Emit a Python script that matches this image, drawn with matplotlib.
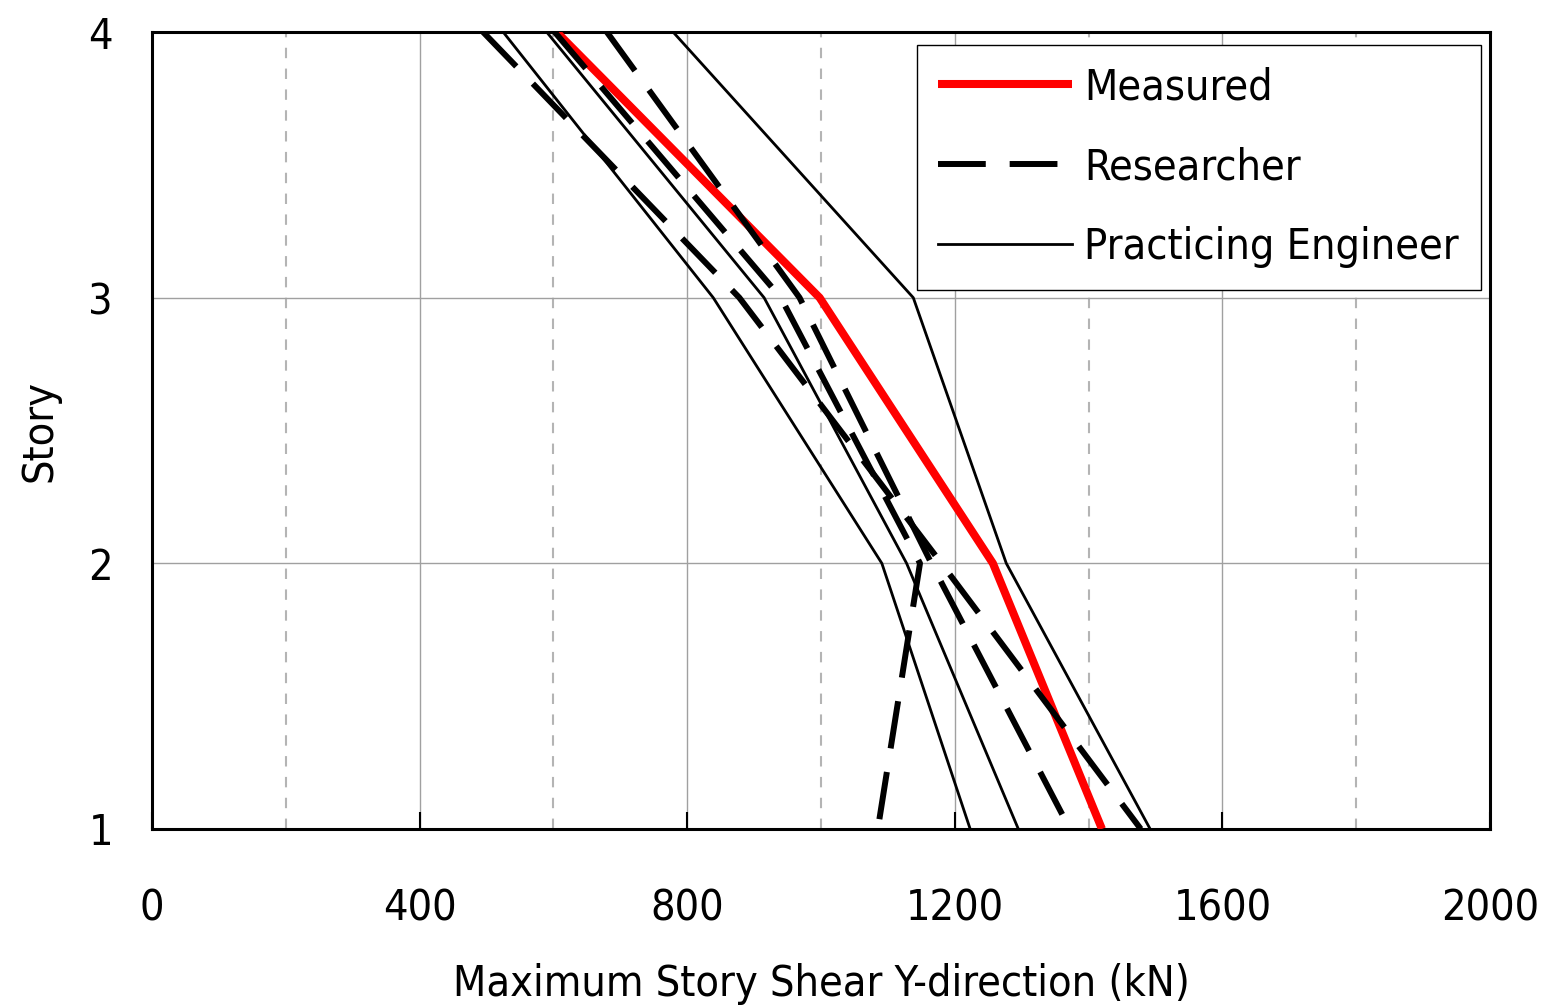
import matplotlib
matplotlib.use('Agg')
import matplotlib.pyplot as plt

plt.rcParams['font.family'] = ['DejaVu Sans']
plt.rcParams['font.stretch'] = 'condensed'

# 階数
stories = [4, 3, 2, 1]

# 実測値
measured = [605, 998, 1257, 1420]

# 研究者の解析結果（破線）
researchers = [
	[495, 878, 1180, 1478],
	[602, 940, 1148, 1085],
	[680, 968, 1165, 1372],
]

# 実務者の解析結果（細線）
engineers = [
	[525, 839, 1091, 1223],
	[590, 915, 1128, 1295],
	[779, 1138, 1277, 1492],
]

x_ticks = [0, 400, 800, 1200, 1600, 2000]
y_ticks = [1, 2, 3, 4]

fig = plt.figure(figsize=(15.41, 10.08), dpi=100)
ax = fig.add_axes([0.0986, 0.1776, 0.8683, 0.7906])

# グリッド（200刻みは破線、400刻みは実線）
for x in range(200, 2000, 200):
	if x % 400 == 0:
		ax.axvline(x, color='#a0a0a0', lw=1.0, zorder=0)
	else:
		ax.axvline(x, color='#b4b4b4', lw=1.5, ls=(0, (5, 5)), zorder=0)
for y in [2, 3]:
	ax.axhline(y, color='#a0a0a0', lw=1.0, zorder=0)

ax.plot(measured, stories, color='#ff0000', lw=5.8, solid_capstyle='butt',
	label='Measured', zorder=3)
for i, r in enumerate(researchers):
	ax.plot(r, stories, color='black', lw=4.3, dashes=(8, 4),
		label='Researcher' if i == 0 else None, zorder=4)
for i, e in enumerate(engineers):
	ax.plot(e, stories, color='black', lw=2.0,
		label='Practicing Engineer' if i == 0 else None, zorder=5)

ax.set_xlim(0, 2000)
ax.set_ylim(1, 4)
ax.set_xticks(x_ticks)
ax.set_yticks(y_ticks)
ax.tick_params(axis='x', direction='in', length=12, width=1.5, pad=42, labelsize=31)
ax.tick_params(axis='y', direction='in', length=0, pad=28, labelsize=31)
for s in ax.spines.values():
	s.set_linewidth(2.2)

ax.set_xlabel('Maximum Story Shear Y-direction (kN)', fontsize=31, labelpad=24)
ax.set_ylabel('Story', fontsize=31, labelpad=20)

leg = ax.legend(loc='upper right', bbox_to_anchor=(0.993, 0.984), fontsize=31,
	frameon=True, fancybox=False, edgecolor='black', framealpha=1,
	handlelength=3.1, handletextpad=0.3, borderpad=0.5, labelspacing=0.88,
	borderaxespad=0)
leg.get_frame().set_linewidth(1.0)

fig.savefig('out.png', dpi=100)
